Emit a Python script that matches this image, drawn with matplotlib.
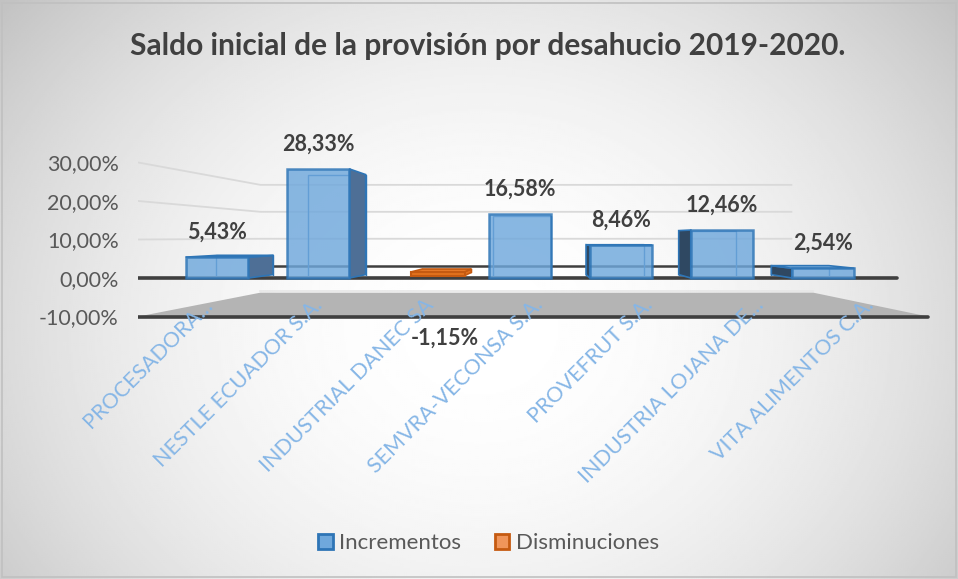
import numpy as np
import matplotlib
matplotlib.use('Agg')
import matplotlib.pyplot as plt
from matplotlib.patches import Patch, Polygon, Rectangle

plt.rcParams['font.family'] = ['Lato', 'DejaVu Sans']

empresas = ['PROCESADORA...', 'NESTLE ECUADOR S.A.', 'INDUSTRIAL DANEC SA',
            'SEMVRA-VECONSA S.A.', 'PROVEFRUT S.A.', 'INDUSTRIA LOJANA DE...',
            'VITA ALIMENTOS C.A.']
incrementos = [5.43, 28.33, np.nan, 16.58, 8.46, 12.46, 2.54]
disminuciones = [np.nan, np.nan, -1.15, np.nan, np.nan, np.nan, np.nan]
yticks = [-10, 0, 10, 20, 30]
ytick_labels = ['-10,00%', '0,00%', '10,00%', '20,00%', '30,00%']
series_names = ['Incrementos', 'Disminuciones']

# colours
blue_face, blue_edge = '#6fa8dc', '#2e75b6'
blue_side_r, blue_side_l, blue_top = '#4e6f96', '#2f4862', '#8cbbe6'
orange_face, orange_edge = '#e2711d', '#c55a11'
text_dark = '#404040'
tick_col = '#595959'
cat_col = '#86b6e6'

# fake 3d perspective (vanishing point + depth scale)
VX, VY = 3.25, 10.65
S_WALL = 0.70
# depth rows: (front, back) scale for each series
ROW_INC = (1.0, 0.917)
ROW_DIS = (0.85, 0.78)
W = 0.31
X_LEFT, X_RIGHT0, X_RIGHT10 = -0.78, 6.73, 7.04


def proj(x, y, s):
    return VX + s * (x - VX), VY + s * (y - VY)


fig = plt.figure(figsize=(9.58, 5.79), dpi=100)

# background gradient
bg = fig.add_axes([0, 0, 1, 1], zorder=-10)
gx, gy = np.meshgrid(np.linspace(0, 958, 480), np.linspace(0, 579, 290))
r = np.sqrt(((gx - 480) / 620) ** 2 + ((gy - 330) / 520) ** 2)
g = 1 - 0.24 * np.clip(r, 0, 1) ** 2
bg.imshow(g, cmap='gray', vmin=0, vmax=1, aspect='auto', extent=(0, 1, 0, 1))
bg.set_axis_off()
fig.patches.append(Rectangle((0.002, 0.003), 0.996, 0.992, transform=fig.transFigure,
                             fill=False, edgecolor='#c0c0c0', lw=1.2))

ax = fig.add_axes([0.1441, 0.4041, 0.8372, 0.3541])
ax.patch.set_alpha(0)
ax.set_xlim(-0.782, 7.158)
ax.set_ylim(-17.40, 35.84)
for sp in ax.spines.values():
    sp.set_visible(False)
ax.set_xticks([])
ax.set_yticks(yticks, labels=ytick_labels)
ax.tick_params(axis='y', length=0, pad=14, labelsize=15.5, labelcolor=tick_col)

# floor at -10
fl = [(X_LEFT, -10), proj(X_LEFT, -10, S_WALL), proj(X_RIGHT10, -10, S_WALL), (X_RIGHT10, -10)]
ax.add_patch(Polygon(fl, closed=True, facecolor='#b4b4b4', edgecolor='none', zorder=1))
bx0, by0 = proj(X_LEFT, -10, S_WALL)
bx1, by1 = proj(X_RIGHT10, -10, S_WALL)
ax.plot([bx0, bx1], [by0 + 0.4, by1 + 0.4], color='#e6e6e6', lw=1.2, zorder=1)

# gridlines (front slant then back wall)
for t in yticks[2:]:
    p1 = proj(X_LEFT, t, S_WALL)
    p2 = proj(X_RIGHT0, t, S_WALL)
    ax.plot([X_LEFT, p1[0], p2[0]], [t, p1[1], p2[1]], color='#d9d9d9', lw=1.3, zorder=1)
p1 = proj(X_LEFT, 0, S_WALL)
p2 = proj(X_RIGHT0, 0, S_WALL)
ax.plot([p1[0], p2[0]], [p1[1], p2[1]], color='#3f3f3f', lw=1.8, zorder=1)
ax.plot([X_LEFT, X_RIGHT0], [0, 0], color='#3f3f3f', lw=2.6, zorder=2, solid_capstyle='round')
ax.plot([X_LEFT, X_RIGHT10], [-10, -10], color='#3f3f3f', lw=2.6, zorder=2, solid_capstyle='round')

x = np.arange(len(empresas))


def box(xc, v, row, edge, side_r, side_l, top):
    sf, sb = row
    x0, x1 = xc - W, xc + W
    # back edges (seen through the front face)
    b = [proj(x0, 0, sb), proj(x0, v, sb), proj(x1, v, sb), proj(x1, 0, sb)]
    ax.plot([p[0] for p in b], [p[1] for p in b], color=edge, lw=1, zorder=3)
    if x1 < VX:
        xs = x1
        fc = side_r
    elif x0 > VX:
        xs = x0
        fc = side_l
    else:
        xs = None
    if xs is not None:
        side = [proj(xs, 0, sf), proj(xs, v, sf), proj(xs, v, sb), proj(xs, 0, sb)]
        ax.add_patch(Polygon(side, closed=True, facecolor=fc, edgecolor=edge, lw=1.2, zorder=3))
    top_v = max(v, 0)
    if top_v < VY:
        tp = [proj(x0, top_v, sf), proj(x1, top_v, sf), proj(x1, top_v, sb), proj(x0, top_v, sb)]
        ax.add_patch(Polygon(tp, closed=True, facecolor=top, edgecolor=edge, lw=1.2, zorder=3))


for xi, v in zip(x, incrementos):
    if not np.isnan(v):
        box(xi, v, ROW_INC, blue_edge, blue_side_r, blue_side_l, blue_top)
for xi, v in zip(x, disminuciones):
    if not np.isnan(v):
        box(xi, v, ROW_DIS, orange_edge, orange_face, orange_face, '#e87a28')

ax.bar(x, incrementos, width=2 * W, color=blue_face, alpha=0.82, edgecolor=blue_edge,
       linewidth=1.8, zorder=4)

# second series sits one row further back
sd = ROW_DIS[0]
dis = np.array(disminuciones)
xd = VX + sd * (x - VX)
yd0 = VY + sd * (0 - VY)
ax.bar(xd, dis * sd, bottom=yd0, width=2 * W * sd, color=orange_face, edgecolor=orange_edge,
       linewidth=1.5, zorder=4)

# data labels
for xi, a in zip(x, incrementos):
    if not np.isnan(a):
        ax.annotate(('%.2f%%' % a).replace('.', ','), (xi, a), xytext=(0, 18),
                    textcoords='offset points', ha='center', va='center', fontsize=15.5,
                    fontweight='bold', color=text_dark, zorder=6)
for xi, yb, b in zip(xd, yd0 + dis * sd, disminuciones):
    if not np.isnan(b):
        ax.annotate(('%.2f%%' % b).replace('.', ','), (xi, yb), xytext=(5, -45),
                    textcoords='offset points', ha='center', va='center', fontsize=15.5,
                    fontweight='bold', color=text_dark, zorder=6)

# category labels along the floor edge
label_spread, label_shift, label_y = 1.09, -0.03, -7.3
for xi, name in zip(x, empresas):
    ax.text(xi * label_spread + label_shift, label_y, name, rotation=45, rotation_mode='anchor',
            ha='right', va='baseline', fontsize=15.5, color=cat_col, zorder=5, clip_on=False)

fig.text(0.509, 0.905, 'Saldo inicial de la provisión por desahucio 2019-2020.',
         ha='center', va='baseline', fontsize=21.5, fontweight='bold', color=text_dark)

handles = [Patch(facecolor=blue_face, edgecolor=blue_edge, lw=2),
           Patch(facecolor='#f0955a', edgecolor=orange_edge, lw=2)]
leg = fig.legend(handles, series_names, loc='center', bbox_to_anchor=(0.51, 0.062), ncol=2,
                 frameon=False, fontsize=16, handlelength=0.65, handleheight=0.65,
                 handletextpad=0.3, columnspacing=1.5)
for t in leg.get_texts():
    t.set_color(tick_col)

fig.savefig('out.png', dpi=100)
